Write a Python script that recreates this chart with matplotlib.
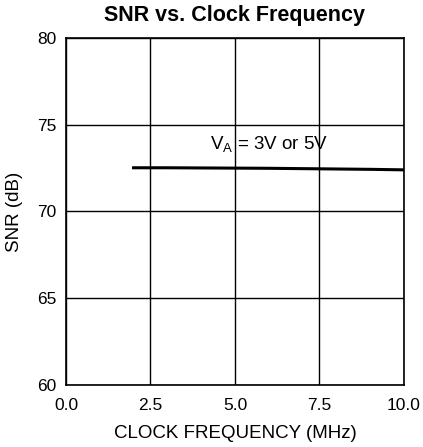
import matplotlib
matplotlib.use("Agg")
import matplotlib.pyplot as plt

freq = [2.0, 3.0, 4.0, 5.0, 6.0, 7.0, 8.0, 9.0, 10.0]
snr = [72.52, 72.52, 72.51, 72.5, 72.49, 72.47, 72.45, 72.43, 72.4]
xticks = [0, 2.5, 5, 7.5, 10]
yticks = [60, 65, 70, 75, 80]

plt.rcParams['font.family'] = ['Liberation Sans', 'DejaVu Sans']
fig = plt.figure(figsize=(4.23, 4.47), dpi=100)
ax = fig.add_axes([0.156, 0.1387, 0.799, 0.7763])
ax.plot(freq, snr, color='black', linewidth=2.2)
ax.set_xlim(0, 10)
ax.set_ylim(60, 80)
ax.set_xticks(xticks)
ax.set_xticklabels([f"{v:.1f}" for v in xticks])
ax.set_yticks(yticks)
ax.grid(True, color='black', linewidth=1)
ax.tick_params(axis='x', length=0, labelsize=12.5, pad=9)
ax.tick_params(axis='y', length=0, labelsize=12.5, pad=7)
for s in ax.spines.values():
    s.set_linewidth(1.2)
ax.set_xlabel('CLOCK FREQUENCY (MHz)', fontsize=13.5, labelpad=9)
ax.set_ylabel('SNR (dB)', fontsize=13.5, labelpad=10)
ax.set_title('SNR vs. Clock Frequency', fontsize=15.5, fontweight='bold', pad=12)
ax.text(6.0, 73.55, r'V$_\mathregular{A}$ = 3V or 5V', fontsize=13.5, ha='center', va='baseline')
fig.savefig('out.png', dpi=100)
